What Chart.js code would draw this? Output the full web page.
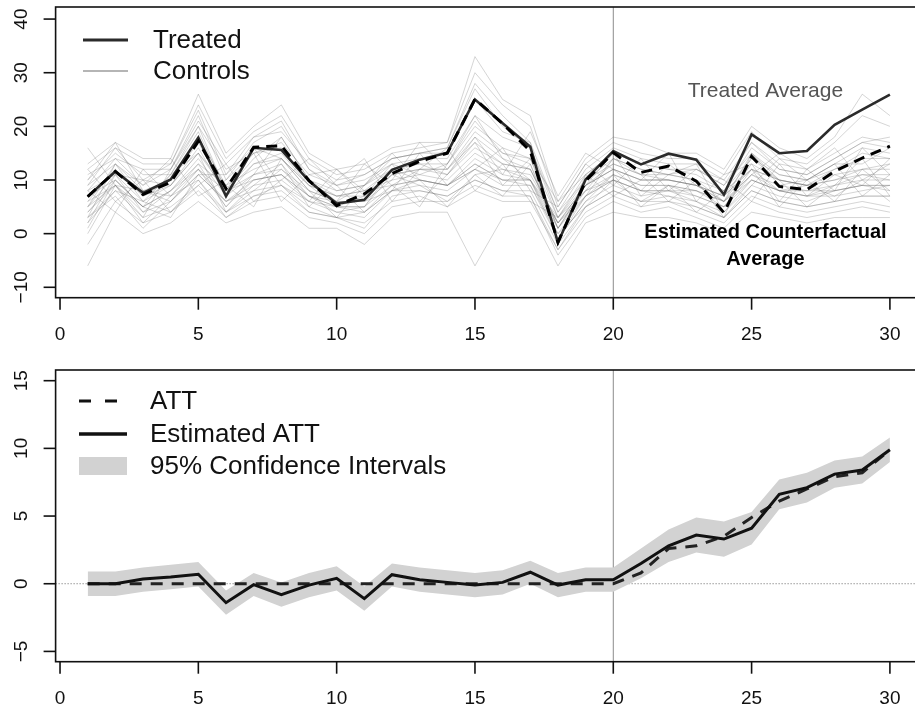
<!DOCTYPE html>
<html lang="en">
<head>
<meta charset="UTF-8" />
<title>Treated Average, Counterfactual and ATT</title>
<script src="https://cdn.jsdelivr.net/npm/chart.js"></script>
<style>
  body { margin: 0; background: #fff; overflow: hidden; }
  .wrap { position: relative; width: 915px; height: 708px; overflow: hidden; background: #fff; }
  canvas { position: absolute; left: 0; }
  #topChart { top: 0; }
  #attChart { top: 350px; }
</style>
</head>
<body>
<div class="wrap">
  <canvas id="topChart" width="935" height="350"></canvas>
  <canvas id="attChart" width="935" height="358"></canvas>
</div>
<script>
// ---- data ----
const periods = [1,2,3,4,5,6,7,8,9,10,11,12,13,14,15,16,17,18,19,20,21,22,23,24,25,26,27,28,29,30];
const treatStart = 20;
const xTicks = [0, 5, 10, 15, 20, 25, 30];
const yTicksTop = [-10, 0, 10, 20, 30, 40];
const yTicksAtt = [-5, 0, 5, 10, 15];

const treated = [6.9,11.6,7.6,10.1,17.9,7.0,16.0,15.6,9.8,5.6,6.3,11.9,13.8,15.1,25.0,20.6,16.2,-1.7,10.1,15.4,12.9,14.9,13.8,7.3,18.5,15.0,15.4,20.3,23.1,25.9];
const counterfactual = [6.9,11.6,7.3,9.6,17.2,8.4,16.1,16.4,9.9,5.2,7.4,11.2,13.5,15.0,25.1,20.5,15.4,-1.6,9.8,15.1,11.4,12.6,9.8,3.9,14.4,8.8,8.2,11.6,14.1,16.3];

const controls = [
  [8,14,9,12,22,10,17,20,12,8,9,14,15,16,28,22,17,-2,11,15,13,12,11,8,16,12,11,14,17,18],
  [2,8,3,5,9,4,7,8,4,3,2,6,7,5,8,6,6,-3,4,7,5,6,4,2,7,5,4,5,6,5],
  [5,11,6,9,16,7,13,15,9,5,7,11,12,12,19,15,13,1,9,12,10,10,9,6,13,10,9,11,12,13],
  [0,9,4,6,12,5,10,11,6,4,3,8,9,8,12,9,9,-1,6,9,7,8,6,3,9,7,6,8,9,8],
  [10,15,11,11,20,12,15,17,11,9,10,13,14,14,22,18,16,4,10,14,12,11,12,9,15,11,10,13,16,15],
  [3,7,1,6,11,6,9,10,6,5,4,9,10,9,13,10,9,0,7,10,8,7,6,4,10,8,7,7,8,9],
  [6,12,7,10,17,8,14,18,10,7,8,12,13,11,18,14,12,1,9,13,11,10,9,7,14,10,9,12,14,14],
  [-2,6,2,4,8,3,6,7,3,2,0,5,6,6,9,7,7,-4,3,6,4,5,3,1,6,4,3,4,5,4],
  [12,16,13,13,24,14,19,22,14,11,12,15,16,17,30,24,20,5,13,17,15,14,14,11,19,14,13,17,22,20],
  [7,10,5,8,14,7,11,12,8,6,6,10,11,10,15,12,11,2,8,11,9,9,8,6,11,9,8,9,10,10],
  [4,9,2,7,10,4,8,9,5,3,1,7,8,7,10,8,8,-2,5,8,6,6,5,3,8,6,5,6,7,7],
  [9,13,8,10,18,9,15,16,10,8,9,12,13,13,20,16,14,3,10,13,11,11,10,8,14,11,10,12,15,14],
  [1,10,5,3,11,6,8,12,7,4,5,11,9,6,11,12,10,0,5,10,6,9,8,5,12,8,9,7,10,6],
  [8,11,10,9,15,9,12,14,9,7,8,9,12,12,17,13,12,2,9,12,10,10,9,7,12,10,9,10,12,12],
  [5,13,6,11,19,8,16,14,8,6,9,13,11,13,21,15,14,1,8,14,12,11,10,6,15,9,10,13,13,16],
  [-6,4,0,2,6,2,4,5,1,1,-2,3,4,4,-6,3,4,-6,2,4,3,3,2,0,4,3,2,3,3,3],
  [13,17,14,14,26,15,20,24,15,12,13,16,17,17,33,25,22,6,14,18,17,15,15,12,20,16,14,18,26,22],
  [6,9,8,7,12,8,10,11,7,6,6,8,10,9,12,10,10,3,8,10,8,8,8,6,10,8,8,8,9,9],
  [2,11,4,8,13,5,11,13,7,5,5,12,10,9,14,11,10,-1,7,11,9,9,7,5,11,8,7,9,11,10],
  [11,14,12,12,21,13,18,19,13,10,11,14,15,15,25,19,17,4,12,16,14,13,13,10,17,13,12,15,18,17],
  [3,8,6,4,10,3,7,9,4,3,4,8,8,7,10,8,7,-3,5,8,6,7,5,3,8,6,5,6,7,7],
  [7,12,7,9,15,8,13,14,9,7,7,11,12,11,16,13,12,2,9,12,10,10,9,7,12,10,9,10,11,11],
  [9,16,10,13,23,11,18,21,12,9,11,14,15,16,27,20,16,3,11,15,13,12,12,9,17,12,11,14,17,16],
  [4,10,5,8,12,6,10,11,7,5,5,9,10,9,13,10,10,1,7,10,8,8,7,5,10,8,7,8,9,9],
  [12,6,10,4,9,13,6,10,14,9,4,8,15,9,12,16,8,5,13,9,14,8,12,10,6,13,7,11,9,14],
  [3,13,9,14,7,10,15,6,11,12,7,13,6,11,17,9,14,6,11,7,10,15,6,11,13,6,12,8,16,11],
  [16,9,5,11,15,4,9,13,5,10,14,6,12,16,8,13,6,3,9,15,7,11,13,4,9,14,10,6,12,8],
  [8,4,12,7,13,9,5,14,8,3,9,15,10,5,11,7,13,-1,6,11,5,9,4,8,12,5,10,13,7,11],
  [5,9,3,12,20,8,11,18,10,6,13,9,5,13,22,14,10,2,7,14,11,6,10,3,15,10,5,9,14,7],
  [10,17,8,6,11,11,16,9,6,12,8,10,17,12,18,11,19,7,15,12,8,13,9,6,11,15,12,16,10,13]
];

const attTrue = [0,0,0,0,0,0,0,0,0,0,0,0,0,0,0,0,0,0,0,0,0.8,2.6,2.8,3.5,4.9,6.1,7.0,7.9,8.2,9.9];
const attEst  = [0,0,0.35,0.5,0.7,-1.4,-0.07,-0.8,-0.1,0.4,-1.1,0.67,0.3,0.1,-0.1,0.1,0.85,-0.1,0.3,0.3,1.5,2.8,3.6,3.3,4.1,6.6,7.1,8.1,8.4,9.9];
const ciLower = [-0.9,-0.9,-0.6,-0.4,-0.2,-2.3,-0.9,-1.7,-1.0,-0.5,-2.0,-0.2,-0.6,-0.8,-1.0,-0.8,0.0,-1.0,-0.6,-0.6,0.4,1.6,2.3,2.0,2.9,5.5,6.0,7.1,7.4,9.0];
const ciUpper = [0.9,0.9,1.2,1.4,1.6,-0.5,0.8,0.1,0.8,1.3,-0.2,1.5,1.2,1.0,0.8,1.0,1.7,0.8,1.2,1.2,2.6,4.0,4.9,4.6,5.3,7.7,8.2,9.1,9.4,10.8];

// ---- helpers ----
const FONT = '"Liberation Sans", Arial, Helvetica, sans-serif';
const pts = arr => periods.map((t, i) => ({ x: t, y: arr[i] }));
const minus = v => String(v).replace('-', '\u2212');

// box, outward ticks, rotated y labels, legend and notes in the style of base R graphics
const rFrame = {
  id: 'rFrame',
  beforeDatasetsDraw(chart, args, o) {
    const { ctx, chartArea: a, scales: { x, y } } = chart;
    ctx.save();
    if (o.zeroLine) {
      const py = y.getPixelForValue(0);
      ctx.strokeStyle = '#666';
      ctx.lineWidth = 1;
      ctx.setLineDash([1, 2]);
      ctx.beginPath(); ctx.moveTo(a.left, py); ctx.lineTo(a.right, py); ctx.stroke();
      ctx.setLineDash([]);
    }
    const vx = x.getPixelForValue(o.vline);
    ctx.strokeStyle = '#8c8c8c';
    ctx.lineWidth = 1;
    ctx.beginPath(); ctx.moveTo(vx, a.top); ctx.lineTo(vx, a.bottom); ctx.stroke();
    ctx.restore();
  },
  afterDraw(chart, args, o) {
    const { ctx, chartArea: a, scales: { x, y } } = chart;
    ctx.save();
    ctx.strokeStyle = '#111';
    ctx.lineWidth = 1.6;
    ctx.strokeRect(a.left, a.top, a.right - a.left, a.bottom - a.top);

    ctx.fillStyle = '#111';
    ctx.font = '19px ' + FONT;
    ctx.textAlign = 'center';
    ctx.textBaseline = 'middle';
    o.xTicks.forEach(v => {
      const px = x.getPixelForValue(v);
      ctx.beginPath(); ctx.moveTo(px, a.bottom); ctx.lineTo(px, a.bottom + 12); ctx.stroke();
      ctx.fillText(minus(v), px, a.bottom + 37);
    });
    o.yTicks.forEach(v => {
      const py = y.getPixelForValue(v);
      ctx.beginPath(); ctx.moveTo(a.left, py); ctx.lineTo(a.left - 12, py); ctx.stroke();
      ctx.save();
      ctx.translate(a.left - 34, py);
      ctx.rotate(-Math.PI / 2);
      ctx.fillText(minus(v), 0, 0);
      ctx.restore();
    });

    // legend
    ctx.font = '26px ' + FONT;
    ctx.textAlign = 'left';
    o.legend.forEach(it => {
      if (it.kind === 'box') {
        ctx.fillStyle = it.color;
        ctx.fillRect(o.legendX0, it.y - 9, o.legendX1 - o.legendX0, 18);
      } else {
        ctx.strokeStyle = it.color;
        ctx.lineWidth = it.width;
        ctx.setLineDash(it.dash || []);
        ctx.beginPath(); ctx.moveTo(o.legendX0, it.y); ctx.lineTo(o.legendX1, it.y); ctx.stroke();
        ctx.setLineDash([]);
      }
      ctx.fillStyle = '#111';
      ctx.fillText(it.label, o.legendText, it.y + 1);
    });

    // in-plot notes, placed in data units
    ctx.textAlign = 'center';
    (o.notes || []).forEach(n => {
      ctx.font = n.font;
      ctx.fillStyle = n.color;
      ctx.fillText(n.text, x.getPixelForValue(n.x), y.getPixelForValue(n.y));
    });
    ctx.restore();
  }
};

const commonOpts = (yMin, yMax, top, bottom) => ({
  responsive: false,
  animation: false,
  events: [],
  layout: { padding: { left: 55.6, right: 13, top: top, bottom: bottom } },
  scales: {
    x: { type: 'linear', min: -0.16, max: 31.16, display: false },
    y: { type: 'linear', min: yMin, max: yMax, display: false }
  },
  elements: { point: { radius: 0 }, line: { tension: 0 } }
});

// ---- top panel: treated, counterfactual and control units ----
const topDatasets = [
  { label: 'Estimated Counterfactual Average', data: pts(counterfactual), borderColor: '#000', borderWidth: 3, borderDash: [11, 7] },
  { label: 'Treated', data: pts(treated), borderColor: '#2b2b2b', borderWidth: 2.6 }
].concat(controls.map((c, i) => ({
  label: 'Control ' + (i + 1), data: pts(c), borderColor: 'rgba(105,105,105,0.28)', borderWidth: 1
})));

const topOpts = commonOpts(-11.94, 42.25, 7, 52.3);
topOpts.plugins = {
  legend: { display: false },
  tooltip: { enabled: false },
  rFrame: {
    vline: treatStart, xTicks: xTicks, yTicks: yTicksTop,
    legendX0: 83, legendX1: 128, legendText: 153,
    legend: [
      { label: 'Treated', y: 40, color: '#2b2b2b', width: 3 },
      { label: 'Controls', y: 71, color: '#b5b5b5', width: 2 }
    ],
    notes: [
      { text: 'Treated Average', x: 25.5, y: 26.6, color: '#555', font: '21px ' + FONT },
      { text: 'Estimated Counterfactual', x: 25.5, y: 0.3, color: '#000', font: 'bold 20px ' + FONT },
      { text: 'Average', x: 25.5, y: -4.8, color: '#000', font: 'bold 20px ' + FONT }
    ]
  }
};

new Chart(document.getElementById('topChart'), {
  type: 'line',
  data: { datasets: topDatasets },
  options: topOpts,
  plugins: [rFrame]
});

// ---- bottom panel: true and estimated ATT with 95% band ----
const attOpts = commonOpts(-5.76, 15.79, 20, 46.3);
attOpts.plugins = {
  legend: { display: false },
  tooltip: { enabled: false },
  filler: { propagate: false },
  rFrame: {
    vline: treatStart, zeroLine: true, xTicks: xTicks, yTicks: yTicksAtt,
    legendX0: 79, legendX1: 127, legendText: 150,
    legend: [
      { label: 'ATT', y: 51, color: '#111', width: 3, dash: [12, 14] },
      { label: 'Estimated ATT', y: 84, color: '#111', width: 3.5 },
      { label: '95% Confidence Intervals', y: 116, kind: 'box', color: '#d2d2d2' }
    ]
  }
};

new Chart(document.getElementById('attChart'), {
  type: 'line',
  data: {
    datasets: [
      { label: 'Estimated ATT', data: pts(attEst), borderColor: '#111', borderWidth: 3 },
      { label: 'ATT', data: pts(attTrue), borderColor: '#222', borderWidth: 3, borderDash: [12, 9] },
      { label: 'CI upper', data: pts(ciUpper), borderWidth: 0, borderColor: 'rgba(0,0,0,0)', backgroundColor: '#d2d2d2', fill: '+1' },
      { label: 'CI lower', data: pts(ciLower), borderWidth: 0, borderColor: 'rgba(0,0,0,0)', fill: false }
    ]
  },
  options: attOpts,
  plugins: [rFrame]
});
</script>
</body>
</html>
